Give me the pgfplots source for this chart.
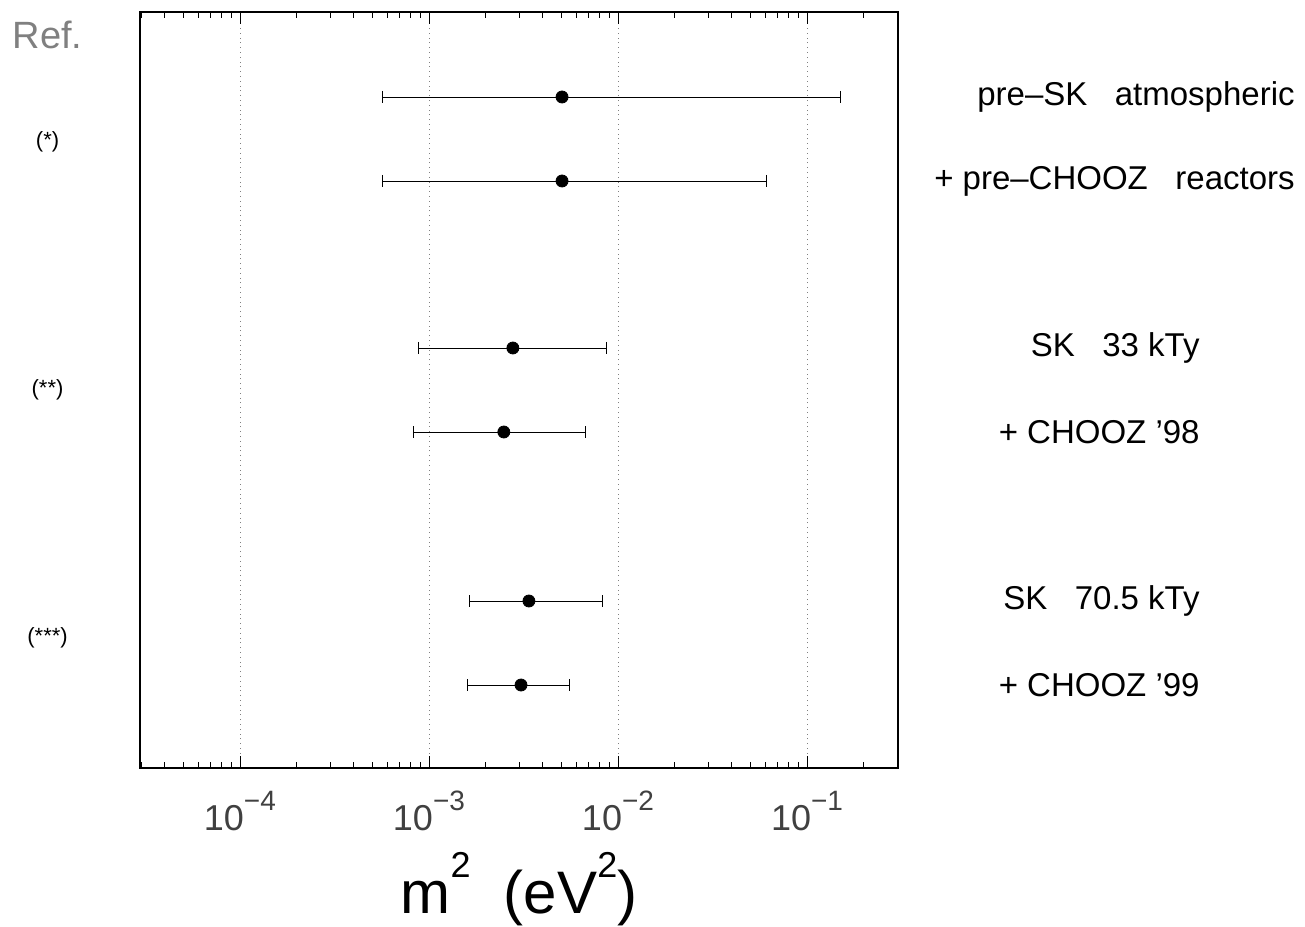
\documentclass[border=0pt]{standalone}
\usepackage{fontspec}
\setmainfont{Liberation Sans}
\usepackage{pgfplots}
\pgfplotsset{compat=1.18}
\newcommand{\tl}[1]{10\raisebox{0.55em}{\fontsize{14}{16}\selectfont #1}}
\begin{document}
\begin{tikzpicture}
\useasboundingbox (-70pt,-79pt) rectangle (582.5pt,384pt);
\begin{axis}[
  at={(0,0)}, anchor=south west,
  scale only axis, width=379pt, height=378pt,
  xmode=log, xmin=2.96e-5, xmax=0.303,
  ymin=0, ymax=756,
  ytick=\empty,
  xtick={1e-4,1e-3,1e-2,1e-1},
  xticklabels={\tl{−4},\tl{−3},\tl{−2},\tl{−1}},
  minor xtick={3e-5,4e-5,5e-5,6e-5,7e-5,8e-5,9e-5,2e-4,3e-4,4e-4,5e-4,6e-4,7e-4,8e-4,9e-4,2e-3,3e-3,4e-3,5e-3,6e-3,7e-3,8e-3,9e-3,2e-2,3e-2,4e-2,5e-2,6e-2,7e-2,8e-2,9e-2,2e-1,3e-1},
  tick align=inside,
  major tick length=6pt, minor tick length=3pt,
  xtick pos=both,
  tick style={black, thin},
  xmajorgrids, major grid style={gray, dotted, thin},
  axis line style={black, line width=1pt},
  xticklabel style={font=\fontsize{18}{20}\selectfont, text=black!75, yshift=-8pt},
  xlabel={m\raisebox{0.6em}{\fontsize{18}{20}\selectfont 2}\ \ (eV\raisebox{0.6em}{\fontsize{18}{20}\selectfont 2})},
  xlabel style={font=\fontsize{30}{34}\selectfont, yshift=-4pt},
  clip=false,
]
% error ranges
\addplot[black, thin, mark=|, mark size=3pt] coordinates {(5.7e-4,671) (0.151,671)};
\addplot[black, thin, mark=|, mark size=3pt] coordinates {(5.7e-4,587) (0.0607,587)};
\addplot[black, thin, mark=|, mark size=3pt] coordinates {(8.75e-4,420) (8.64e-3,420)};
\addplot[black, thin, mark=|, mark size=3pt] coordinates {(8.23e-4,336) (6.69e-3,336)};
\addplot[black, thin, mark=|, mark size=3pt] coordinates {(1.63e-3,167) (8.23e-3,167)};
\addplot[black, thin, mark=|, mark size=3pt] coordinates {(1.59e-3,83) (5.51e-3,83)};
% central values
\addplot[only marks, mark=*, mark size=3pt, black] coordinates {
 (5.06e-3,671) (5.06e-3,587) (2.78e-3,420) (2.49e-3,336) (3.38e-3,167) (3.07e-3,83)};
% right labels
\node[anchor=east, inner sep=0pt, font=\fontsize{16.5}{19}\selectfont] at (axis cs:38.2,671) {pre–SK\ \ \ atmospheric};
\node[anchor=east, inner sep=0pt, font=\fontsize{16.5}{19}\selectfont] at (axis cs:38.2,587) {+ pre–CHOOZ\ \ \ reactors};
\node[anchor=east, inner sep=0pt, font=\fontsize{16.5}{19}\selectfont] at (axis cs:12.0,420) {SK\ \ \ 33 kTy};
\node[anchor=east, inner sep=0pt, font=\fontsize{16.5}{19}\selectfont] at (axis cs:12.0,336) {+ CHOOZ '98};
\node[anchor=east, inner sep=0pt, font=\fontsize{16.5}{19}\selectfont] at (axis cs:12.0,167) {SK\ \ \ 70.5 kTy};
\node[anchor=east, inner sep=0pt, font=\fontsize{16.5}{19}\selectfont] at (axis cs:12.0,83) {+ CHOOZ '99};
% left labels
\node[font=\fontsize{19}{21}\selectfont, text=gray] at (axis cs:9.6e-6,733) {Ref.};
\node[font=\fontsize{11}{13}\selectfont] at (axis cs:9.6e-6,626) {(*)};
\node[font=\fontsize{11}{13}\selectfont] at (axis cs:9.6e-6,378) {(**)};
\node[font=\fontsize{11}{13}\selectfont] at (axis cs:9.6e-6,130) {(***)};
\end{axis}
\end{tikzpicture}
\end{document}
